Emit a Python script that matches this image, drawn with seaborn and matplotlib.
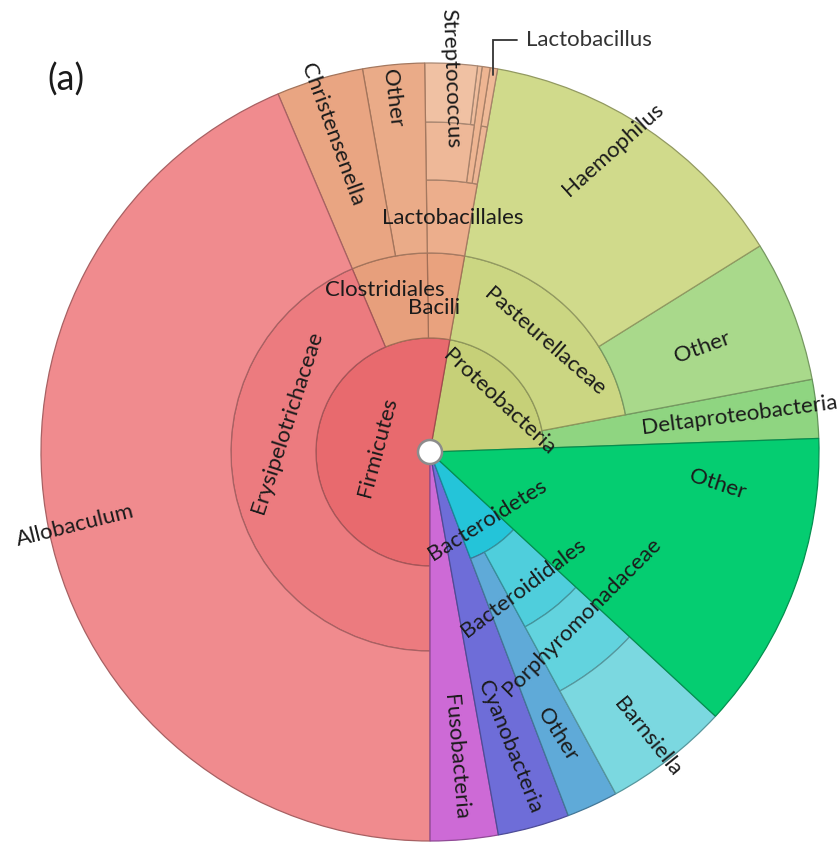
import numpy as np
import matplotlib
matplotlib.use("Agg")
import matplotlib.pyplot as plt
import matplotlib.colors as mcolors
from matplotlib.patches import Wedge, Circle
import seaborn as sns

# ---- taxonomy tree (listed counter-clockwise, starting just above east) ----
taxa = ["Proteobacteria", "Deltaproteobacteria", "Pasteurellaceae", "Other", "Haemophilus",
        "Firmicutes", "Bacili", "Lactobacillales", "Lactobacillaceae", "Lactobacillus", "Other",
        "Streptococcaceae", "Other", "Streptococcus", "Clostridiales", "Other", "Christensenella",
        "Erysipelotrichaceae", "Allobaculum", "Fusobacteria", "Cyanobacteria", "Bacteroidetes",
        "Other", "Bacteroididales", "Porphyromonadaceae", "Barnsiella", "Other"]
parent = [-1, 0, 0, 2, 2,
          -1, 5, 6, 7, 8, 7,
          7, 11, 11, 5, 14, 14,
          5, 17, -1, -1, -1,
          21, 21, 23, 24, -1]
# relative abundance (%) of the leaf taxa; inner nodes are the sum of their children
share = [0, 2.44, 0, 5.89, 13.33,
         0, 0, 0, 0, 0.31, 0.33,
         0, 0.19, 2.17, 0, 2.56, 3.61,
         0, 43.61, 2.81, 2.97, 0,
         2.14, 0, 0, 5.19, 12.44]
fill = ["#C6D078", "#8FD581", "#CBD682", "#A9D98B", "#D0DA8B",
        "#E86A6E", "#E9A27E", "#ECAE8C", "#EDB594", "#EFB997", "#EEB592",
        "#EEB898", "#EFBC9C", "#F0C1A3", "#E79F7C", "#EAAB88", "#E9A582",
        "#EC7B7F", "#F08B8E", "#CD6AD6", "#6E6DD8", "#24C4D9",
        "#5FAAD8", "#4FCEDC", "#62D3DE", "#7BD8E0", "#05CD71"]

# ---- layout ----
ring_r = [12, 114, 199, 272, 330, 389]
start_angle = 2.0
W, H = 838, 842
cx, cy = 430, H - 452

n = len(taxa)
children = [[] for _ in range(n)]
for i, p in enumerate(parent):
    if p >= 0:
        children[p].append(i)


def total(i):
    return share[i] + sum(total(c) for c in children[i])


totals = [total(i) for i in range(n)]
grand = sum(totals[i] for i in range(n) if parent[i] < 0)
depth = [0] * n
for i in range(n):
    d, p = 0, parent[i]
    while p >= 0:
        d += 1
        p = parent[p]
    depth[i] = d

theta0 = [0.0] * n
theta1 = [0.0] * n


def place(nodes, a0):
    a = a0
    for i in nodes:
        span = totals[i] / grand * 360.0
        theta0[i], theta1[i] = a, a + span
        place(children[i], a)
        a += span


place([i for i in range(n) if parent[i] < 0], start_angle)

sns.set_theme(style="white")
plt.rcParams["font.family"] = ["Lato", "DejaVu Sans"]

fig = plt.figure(figsize=(W / 100, H / 100), dpi=100)
ax = fig.add_axes([0, 0, 1, 1])
ax.set_xlim(0, W)
ax.set_ylim(0, H)
ax.set_aspect("equal")
ax.axis("off")

for i in range(n):
    r_in = ring_r[depth[i]]
    r_out = ring_r[depth[i] + 1] if children[i] else ring_r[-1]
    base = np.array(mcolors.to_rgb(fill[i]))
    edge = tuple(base * 0.7)
    ax.add_patch(Wedge((cx, cy), r_out, theta0[i], theta1[i], width=r_out - r_in,
                       facecolor=fill[i], edgecolor=edge, linewidth=0.9, zorder=2))

ax.add_patch(Circle((cx, cy), ring_r[0], facecolor="white", edgecolor="#8c8c8c",
                    linewidth=1.8, zorder=5))

# ---- labels: node, polar angle (deg), radius, text rotation ----
label_spec = [
    (5, 174.6, 53, 75), (17, 168.2, 146, 72), (18, 191.8, 362, 14),
    (14, 105.5, 168, 0), (6, 88.4, 144, 0), (7, 84.4, 235, 0),
    (16, 107.2, 332, -70), (15, 96.0, 356, -83), (13, 86.9, 374, -88),
    (4, 58.8, 353, 42), (2, 43.7, 159, -41), (0, 35.9, 85, -43),
    (3, 21.0, 292, 20), (1, 6.8, 312, 7.5), (26, -6.4, 289, -18),
    (21, -49.5, 89, 32), (23, -55.6, 165, 37), (24, -47.4, 224, 45),
    (25, -52.7, 358, -51), (22, -65.8, 310, -58), (20, -74.8, 305, -68),
    (19, -85.3, 306, -85),
]
for i, ang, rad, rot in label_spec:
    a = np.deg2rad(ang)
    ax.text(cx + rad * np.cos(a), cy + rad * np.sin(a), taxa[i], rotation=rot,
            rotation_mode="anchor", ha="center", va="center", fontsize=16,
            color="#1b1b1b", zorder=6)

# callout for the thin Lactobacillus slice
lb = 9
mid = np.deg2rad(0.5 * (theta0[lb] + theta1[lb]))
x0, y0 = cx + 382 * np.cos(mid), cy + 382 * np.sin(mid)
ytop = H - 40
ax.plot([x0, x0, x0 + 24], [y0, ytop, ytop], color="#333333", lw=1.3, zorder=6,
        solid_joinstyle="miter")
ax.text(x0 + 33, ytop, taxa[lb], ha="left", va="center", fontsize=16, color="#333333")

ax.text(66, H - 80, "(a)", ha="center", va="center", fontsize=26, color="#1b1b1b")

fig.savefig("out.png", dpi=100, facecolor="white")
